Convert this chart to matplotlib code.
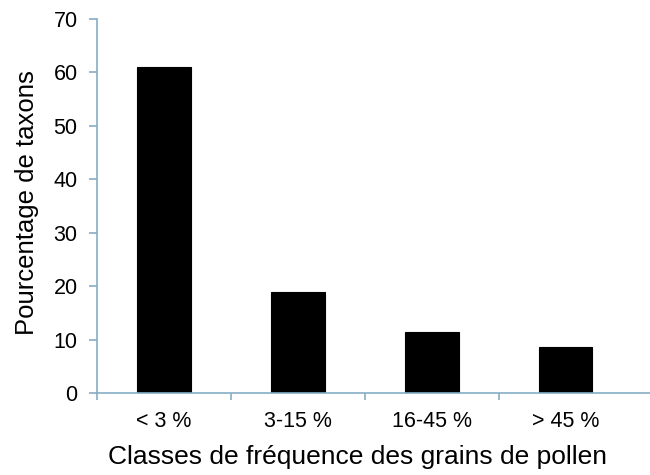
import matplotlib
matplotlib.use("Agg")
import matplotlib.pyplot as plt
import numpy as np

plt.rcParams['font.family'] = ['Liberation Sans', 'DejaVu Sans']

categories = ["< 3 %", "3-15 %", "16-45 %", "> 45 %"]
percentages = [61.0, 18.9, 11.4, 8.6]

axis_color = "#86aec4"

fig = plt.figure(figsize=(6.5, 4.75), dpi=100)
ax = fig.add_axes([97 / 650, 82 / 475, 1 - 97 / 650, (393 - 19) / 475])

x = np.arange(len(categories))
ax.bar(x, percentages, width=0.4, color="black", edgecolor="black", linewidth=0.8)

ax.set_ylim(0, 70)
ax.set_xlim(-0.5, 3.63)
ax.set_yticks(np.arange(0, 71, 10))
ax.tick_params(axis='y', labelsize=15.5, length=6, color=axis_color, width=1.2, pad=8)

# category labels centred under bars, tick marks on the category boundaries
ax.set_xticks(x)
ax.set_xticklabels(categories, fontsize=15.5)
ax.tick_params(axis='x', which='major', length=0, pad=13)
ax.set_xticks(np.arange(-0.5, 3.0, 1.0), minor=True)
ax.tick_params(axis='x', which='minor', length=5, color=axis_color, width=1.2)

for side in ("top", "right"):
    ax.spines[side].set_visible(False)
for side in ("left", "bottom"):
    ax.spines[side].set_color(axis_color)
    ax.spines[side].set_linewidth(1.2)

ax.set_ylabel("Pourcentage de taxons", fontsize=18.5)
ax.yaxis.set_label_coords(-(97 - 39) / 553, (393 - 203) / 374)
ax.set_xlabel("Classes de fréquence des grains de pollen", fontsize=19)
ax.xaxis.set_label_coords((357 - 97) / 553, -(445 - 393) / 374)

fig.savefig("out.png", dpi=100)
